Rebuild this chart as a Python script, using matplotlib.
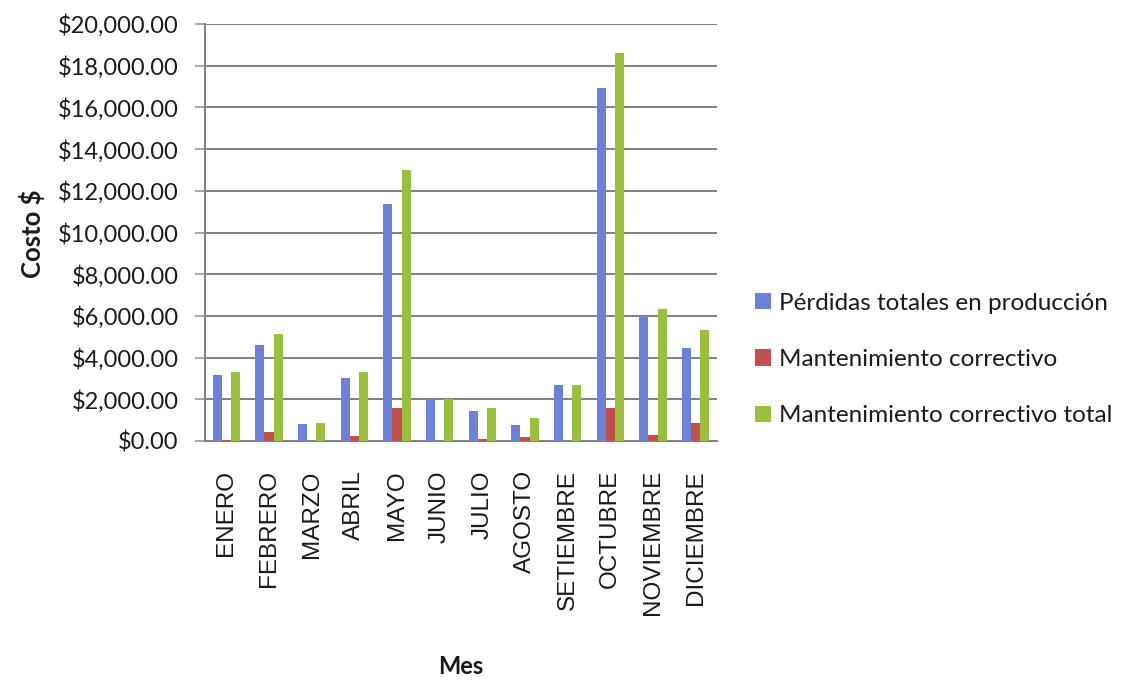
import matplotlib
matplotlib.use("Agg")
import matplotlib.pyplot as plt
import numpy as np
from matplotlib.ticker import FuncFormatter

months = ["ENERO", "FEBRERO", "MARZO", "ABRIL", "MAYO", "JUNIO", "JULIO",
          "AGOSTO", "SETIEMBRE", "OCTUBRE", "NOVIEMBRE", "DICIEMBRE"]
perdidas = [3150, 4600, 800, 3030, 11380, 2000, 1450, 780, 2680, 16950, 6000, 4460]
mant_corr = [60, 430, 0, 240, 1600, 0, 80, 210, 0, 1580, 290, 870]
mant_total = [3300, 5130, 850, 3320, 12980, 2000, 1580, 1100, 2680, 18600, 6330, 5320]
series_names = ["Pérdidas totales en producción", "Mantenimiento correctivo",
                "Mantenimiento correctivo total"]
colors = ["#6A82D8", "#C0504D", "#9BBF3C"]

fig = plt.figure(figsize=(11.31, 6.84), dpi=100)
ax = fig.add_axes([205/1131, 1-441/684, (717-205)/1131, (441-24)/684])

x = np.arange(len(months))
w = 0.215
for i, (vals, name, c) in enumerate(zip([perdidas, mant_corr, mant_total], series_names, colors)):
    ax.bar(x + (i-1)*w, vals, width=w, color=c, label=name, zorder=3)

ax.set_xlim(-0.5, len(months)-0.5)
ax.set_ylim(0, 20000)
ax.set_yticks(np.arange(0, 20001, 2000))
ax.yaxis.set_major_formatter(FuncFormatter(lambda v, p: f"${v:,.2f}"))
ax.grid(axis="y", color="#808080", linewidth=1.4, zorder=0)
for s in ["top", "right"]:
    ax.spines[s].set_visible(False)
ax.spines["left"].set_color("#808080")
ax.spines["left"].set_linewidth(1.4)
ax.spines["bottom"].set_color("#808080")
ax.spines["bottom"].set_linewidth(1.4)
ax.tick_params(axis="y", length=7, width=1.2, color="#9a9a9a", labelsize=17, pad=12,
               labelcolor="#1a1a1a")
for lbl in ax.get_yticklabels():
    lbl.set_fontfamily("Lato")
ax.set_xticks(x)
ax.set_xticklabels(months, rotation=90, fontsize=17.5, fontfamily="Liberation Sans",
                   rotation_mode="anchor", ha="right", va="center", color="#1a1a1a")
ax.tick_params(axis="x", length=0, pad=21)

fig.text(32/1131, 1-234/684, "Costo $", rotation=90, fontsize=18.5, fontweight="bold",
         fontfamily="Lato", ha="center", va="center", color="#1a1a1a")
fig.text(461/1131, 1-667/684, "Mes", fontsize=17, fontweight="bold",
         fontfamily="Lato", ha="center", va="center", color="#1a1a1a")

leg = fig.legend(loc="upper left", bbox_to_anchor=(745/1131, 1-283/684), frameon=False,
                 prop={"family": "Lato", "size": 17.5}, handlelength=0.65, handleheight=0.65,
                 handletextpad=0.35, labelspacing=1.45, borderaxespad=0)
for t in leg.get_texts():
    t.set_color("#1a1a1a")

fig.savefig("out.png", dpi=100)
